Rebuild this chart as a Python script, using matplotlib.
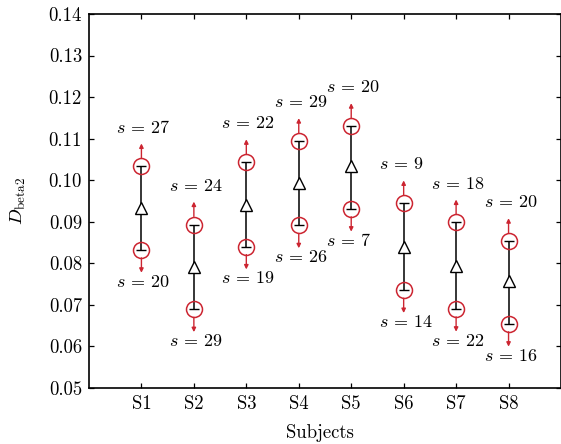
import matplotlib
matplotlib.use("Agg")
import matplotlib.pyplot as plt
from matplotlib.ticker import FormatStrFormatter, MultipleLocator
from matplotlib.transforms import offset_copy

plt.rcParams["font.family"] = "serif"
plt.rcParams["font.serif"] = ["cmr10"]
plt.rcParams["mathtext.fontset"] = "cm"
plt.rcParams["axes.formatter.use_mathtext"] = True

subjects = ["S1", "S2", "S3", "S4", "S5", "S6", "S7", "S8"]
mean_vals = [0.0932, 0.0790, 0.0939, 0.0992, 0.1033, 0.0838, 0.0792, 0.0756]
upper_vals = [0.1033, 0.0893, 0.1043, 0.1094, 0.1130, 0.0944, 0.0898, 0.0853]
lower_vals = [0.0832, 0.0689, 0.0840, 0.0891, 0.0931, 0.0735, 0.0690, 0.0654]
upper_s = [27, 24, 22, 29, 20, 9, 18, 20]
lower_s = [20, 29, 19, 26, 7, 14, 22, 16]

red = "#cc2531"
fs_tick = 13.5
fs_note = 13

fig = plt.figure(figsize=(5.61, 4.44), dpi=100)
ax = fig.add_axes([0.1586, 0.1268, 0.8414, 0.8417])

xs = list(range(1, len(subjects) + 1))

# mean with range bars
ax.errorbar(xs, mean_vals,
            yerr=[[m - lo for m, lo in zip(mean_vals, lower_vals)],
                  [hi - m for m, hi in zip(mean_vals, upper_vals)]],
            fmt="^", color="black", mfc="white", mec="black", ms=8.5, mew=1.0,
            ecolor="black", elinewidth=1.1, capsize=3.6, capthick=1.1, zorder=3)

# extreme points
ax.plot(xs, upper_vals, "o", ms=11.5, mfc="none", mec=red, mew=1.1, zorder=4)
ax.plot(xs, lower_vals, "o", ms=11.5, mfc="none", mec=red, mew=1.1, zorder=4)


def shifted(dx, dy):
    return offset_copy(ax.transData, fig=fig, x=dx, y=dy, units="points")


arrow_kw = dict(arrowstyle="-|>", color=red, lw=1.0, mutation_scale=6,
                shrinkA=0, shrinkB=0)

for x, hi, lo, s_hi, s_lo in zip(xs, upper_vals, lower_vals, upper_s, lower_s):
    ax.annotate("", xy=(x, hi), xycoords=shifted(0, 16.5),
                xytext=(x, hi), textcoords=shifted(0, 5.8), arrowprops=arrow_kw)
    ax.annotate("", xy=(x, lo), xycoords=shifted(0, -16.5),
                xytext=(x, lo), textcoords=shifted(0, -5.8), arrowprops=arrow_kw)
    ax.text(x, hi, f"$s$ = {s_hi}", transform=shifted(-18.0, 28.0),
            ha="left", va="center", fontsize=fs_note)
    ax.text(x, lo, f"$s$ = {s_lo}", transform=shifted(-18.0, -23.0),
            ha="left", va="center", fontsize=fs_note)

ax.set_xlim(0, 9)
ax.set_ylim(0.05, 0.14)
ax.set_xticks(xs)
ax.set_xticklabels(subjects)
ax.yaxis.set_major_locator(MultipleLocator(0.01))
ax.yaxis.set_major_formatter(FormatStrFormatter("%.2f"))
ax.tick_params(direction="in", top=True, right=True, length=3.5, width=0.9,
               labelsize=fs_tick, pad=5)
for sp in ax.spines.values():
    sp.set_linewidth(1.2)

ax.set_xlabel("Subjects", fontsize=fs_tick)
ax.set_ylabel(r"$D_{\mathrm{beta2}}$", fontsize=fs_tick)
ax.xaxis.set_label_coords(0.49, -0.097)
ax.yaxis.set_label_coords(-0.13, 0.5)

fig.savefig("out.png", dpi=100)
